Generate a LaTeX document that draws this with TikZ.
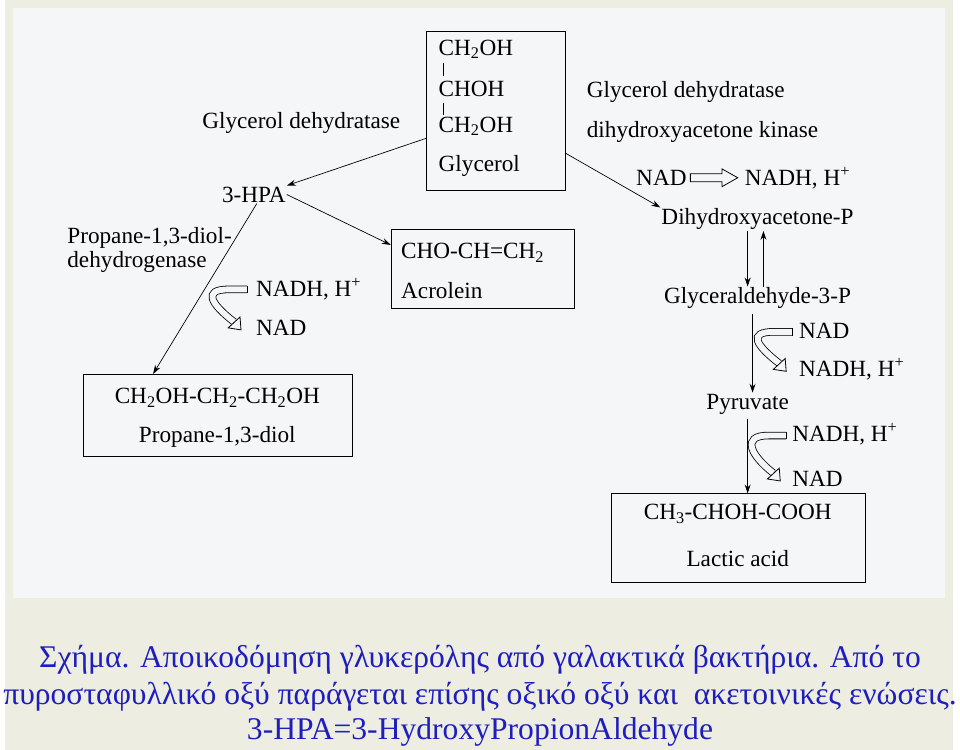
\documentclass[tikz,border=0pt]{standalone}
\usepackage{fontspec}
\setmainfont{Liberation Serif}
\usepackage{tikz}
\usetikzlibrary{arrows.meta}
\definecolor{outer}{RGB}{238,237,226}
\definecolor{panel}{RGB}{245,246,247}
\definecolor{capblue}{RGB}{30,30,190}
\newcommand{\sub}[1]{\textsubscript{#1}}
% bent hollow arrow: open end at (x,y), head reached after depth #3
\newcommand{\hollowbend}[3]{
\draw[line width=0.8pt, double=panel, double distance=6pt]
  (#1,#2)--(#1-18,#2) .. controls (#1-46,#2) and (#1-36,#2+#3-18) .. (#1-13,#2+#3);
\draw[line width=0.8pt] (#1,#2-3.8)--(#1,#2+3.8);
\filldraw[line width=0.8pt, fill=panel] (#1-19,#2+#3+6)--(#1-6,#2+#3+8)--(#1-7,#2+#3-5)--cycle;
}
\begin{document}
\begin{tikzpicture}[x=1pt,y=-1pt,
  chem/.style={font=\fontsize{23.5}{25}\selectfont, inner sep=1pt},
  box/.style={draw, line width=0.8pt},
  arr/.style={-{Stealth[length=9pt,width=6pt]}, line width=0.7pt},
  caption/.style={font=\fontsize{32}{34}\selectfont, text=capblue}]
\fill[outer] (0,0) rectangle (960,759);
\fill[panel] (8,8) rectangle (952,605);
% glycerol
\node[box, minimum width=140pt, minimum height=161pt] (glyc) at (497,112.5) {};
\node[chem, anchor=west] (g1) at (438,50) {CH\sub{2}OH};
\node[chem, anchor=west] (g2) at (438,90) {CHOH};
\node[chem, anchor=west] (g3) at (438,128) {CH\sub{2}OH};
\node[chem, anchor=west] (g4) at (438,168) {Glycerol};
\draw[line width=0.6pt] (444,64)--(444,77) (444,104)--(444,116);
% left branch
\node[chem] (gdl) at (300,125) {Glycerol dehydratase};
\node[chem] (hpa) at (252,197) {3-HPA};
\draw[arr] (glyc.west |- 0,140) -- (hpa.north east);
\node[box, minimum width=186pt, minimum height=80pt] (acro) at (484,272) {};
\node[chem, anchor=west] (a1) at (400,256) {CHO-CH=CH\sub{2}};
\node[chem, anchor=west] (a2) at (400,294) {Acrolein};
\draw[arr] (hpa.east) -- (acro.west |- 0,248);
\node[chem, align=left, anchor=west] (pdh) at (62,253) {Propane-1,3-diol-\\dehydrogenase};
\node[box, minimum width=273pt, minimum height=83pt] (prop) at (215.5,420.5) {};
\node[chem] (p1) at (215,403) {CH\sub{2}OH-CH\sub{2}-CH\sub{2}OH};
\node[chem] (p2) at (215,442) {Propane-1,3-diol};
\draw[arr] (hpa.south -| 255,0) -- (prop.north -| 150,0);
\node[chem, anchor=west] (nadh1) at (253,293) {NADH, H\textsuperscript{+}};
\node[chem, anchor=west] (nad1) at (253,332) {NAD};
\hollowbend{245}{293}{33}
% right branch
\node[chem, anchor=west] (gdr) at (588,93) {Glycerol dehydratase};
\node[chem, anchor=west] (dak) at (588,134) {dihydroxyacetone kinase};
\node[chem, anchor=west] (nad2) at (638,180) {NAD};
\node[chem, anchor=west] (nadh2) at (748,180) {NADH, H\textsuperscript{+}};
\filldraw[line width=0.8pt, fill=panel] (694,176)--(726,176)--(726,171)--(742,180)--(726,189)--(726,184)--(694,184)--cycle;
\node[chem] (dhap) at (762,222) {Dihydroxyacetone-P};
\draw[arr] (glyc.east |- 0,155) -- (dhap.north west);
\node[chem] (g3p) at (762,302) {Glyceraldehyde-3-P};
\draw[arr] (dhap.south -| 752,0) -- (g3p.north -| 752,0);
\draw[arr] (g3p.north -| 768,0) -- (dhap.south -| 768,0);
\node[chem] (pyr) at (752,409) {Pyruvate};
\draw[arr] ([yshift=-4pt]g3p.south -| 757,0) -- (pyr.north -| 757,0);
\node[chem, anchor=west] (nad3) at (803,335) {NAD};
\node[chem, anchor=west] (nadh3) at (803,374) {NADH, H\textsuperscript{+}};
\hollowbend{797}{336}{32}
\node[box, minimum width=257pt, minimum height=90pt] (lact) at (742.5,545) {};
\node[chem] (l1) at (742,520) {CH\sub{3}-CHOH-COOH};
\node[chem] (l2) at (742,566) {Lactic acid};
\draw[arr] ([yshift=-4pt]pyr.south -| 752,0) -- (lact.north -| 752,0);
\node[chem, anchor=west] (nadh4) at (796,440) {NADH, H\textsuperscript{+}};
\node[chem, anchor=west] (nad4) at (796,485) {NAD};
\hollowbend{791}{441}{38}
% caption
\node[caption] (cap1) at (481,668) {Σχήμα. Αποικοδόμηση γλυκερόλης από γαλακτικά βακτήρια. Από το};
\node[caption] (cap2) at (481,705) {πυροσταφυλλικό οξύ παράγεται επίσης οξικό οξύ και \ ακετοινικές ενώσεις.};
\node[caption] (cap3) at (481,741) {3-HPA=3-HydroxyPropionAldehyde};
\end{tikzpicture}
\end{document}
